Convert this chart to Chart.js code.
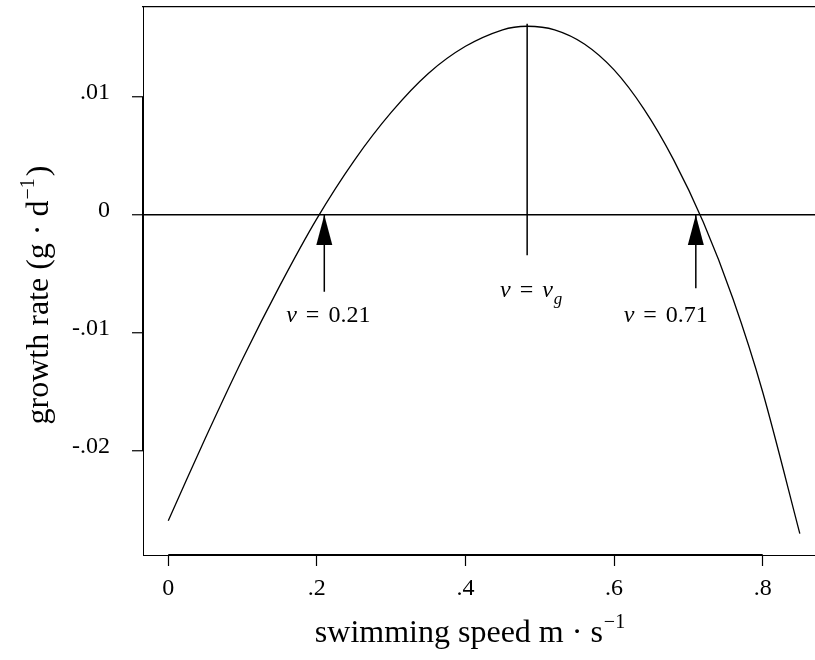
<!DOCTYPE html>
<html>
<head>
<meta charset="utf-8">
<title>Growth rate vs swimming speed</title>
<script src="https://cdn.jsdelivr.net/npm/chart.js@4.4.1/dist/chart.umd.min.js"></script>
<style>
    html, body { margin: 0; padding: 0; background: #fff; overflow: hidden; }
    canvas { display: block; }
</style>
</head>
<body>
<canvas id="growthChart" width="815" height="660"></canvas>
<script>
// growth curve: swimming speed (m/s) -> growth rate (g/d)
const speed = [0, 0.05, 0.10, 0.15, 0.20, 0.25, 0.30, 0.35, 0.40, 0.45, 0.483, 0.52, 0.56, 0.60, 0.64, 0.68, 0.72, 0.76, 0.80, 0.85];
const growth = [-0.0259, -0.0189, -0.0122, -0.0060, -0.0003, 0.0046, 0.0087, 0.0120, 0.0143, 0.0157, 0.0160, 0.0157, 0.0145, 0.0123, 0.0090, 0.0047, -0.0006, -0.0071, -0.0150, -0.0270];

// axis ticks
const speedTicks = [0, 0.2, 0.4, 0.6, 0.8];
const speedTickLabels = ['0', '.2', '.4', '.6', '.8'];
const growthTicks = [-0.02, -0.01, 0, 0.01];
const growthTickLabels = ['-.02', '-.01', '0', '.01'];

// axis ranges
const speedMin = -0.034, speedMax = 0.8704;
const growthMin = -0.02881, growthMax = 0.01763;

// optimum speed marker (vertical line)
const vg = 0.483;
const vgLine = [0.0162, -0.0034];

// zero-growth speeds (arrows)
const rootSpeeds = [0.21, 0.71];
const rootLabels = ['0.21', '0.71'];
const arrowTails = [-0.0065, -0.0062];

const SERIF = "'Liberation Serif', 'Times New Roman', serif";
const ROMAN = '24px ' + SERIF;
const ITALIC = 'italic 24px ' + SERIF;

// draw a row of text pieces (for super/subscripts)
function drawRuns(ctx, runs, x, y, align) {
    let w = 0;
    runs.forEach(r => { ctx.font = r.font; w += ctx.measureText(r.text).width + (r.gap || 0); });
    let cx = align === 'center' ? x - w / 2 : (align === 'right' ? x - w : x);
    runs.forEach(r => {
        ctx.font = r.font;
        ctx.fillText(r.text, cx, y + (r.dy || 0));
        cx += ctx.measureText(r.text).width + (r.gap || 0);
    });
}

// no extra room around the plot for edge labels
function noPadding(axis) {
    axis.paddingTop = 0;
    axis.paddingBottom = 0;
    axis.paddingLeft = 0;
    axis.paddingRight = 0;
}

const decorations = {
    id: 'decorations',
    afterDraw(chart) {
        const { ctx, chartArea, scales: { x, y } } = chart;
        ctx.save();
        ctx.strokeStyle = '#000';
        ctx.fillStyle = '#000';
        ctx.textAlign = 'left';
        ctx.textBaseline = 'alphabetic';

        // heavier axis line between the outer ticks
        ctx.lineWidth = 2;
        ctx.beginPath();
        ctx.moveTo(chartArea.left, y.getPixelForValue(growthTicks[growthTicks.length - 1]));
        ctx.lineTo(chartArea.left, y.getPixelForValue(growthTicks[0]));
        ctx.moveTo(x.getPixelForValue(speedTicks[0]), chartArea.bottom);
        ctx.lineTo(x.getPixelForValue(speedTicks[speedTicks.length - 1]), chartArea.bottom);
        ctx.stroke();

        // arrowheads
        rootSpeeds.forEach(v => {
            const px = x.getPixelForValue(v);
            const py = y.getPixelForValue(0);
            ctx.beginPath();
            ctx.moveTo(px, py);
            ctx.lineTo(px - 8, py + 30);
            ctx.lineTo(px + 8, py + 30);
            ctx.closePath();
            ctx.fill();
        });

        // labels under the arrows
        rootSpeeds.forEach((v, i) => {
            const px = x.getPixelForValue(v);
            const runs = [
                { text: 'v', font: ITALIC, gap: 9 },
                { text: '=', font: ROMAN, gap: 9 },
                { text: rootLabels[i], font: ROMAN }
            ];
            if (i === 0) drawRuns(ctx, runs, px + 4, 322, 'center');
            else drawRuns(ctx, runs, px + 12, 322, 'right');
        });

        // label under the optimum line
        drawRuns(ctx, [
            { text: 'v', font: ITALIC, gap: 9 },
            { text: '=', font: ROMAN, gap: 9 },
            { text: 'v', font: ITALIC, gap: 1 },
            { text: 'g', font: 'italic 17px ' + SERIF, dy: 7 }
        ], x.getPixelForValue(vg) + 4, 297, 'center');

        // axis titles
        const big = '32px ' + SERIF;
        const sup = '20px ' + SERIF;
        drawRuns(ctx, [
            { text: 'swimming speed m \u00b7 s', font: big, gap: 1 },
            { text: '\u22121', font: sup, dy: -14 }
        ], 470, 642, 'center');

        ctx.translate(48, 295);
        ctx.rotate(-Math.PI / 2);
        drawRuns(ctx, [
            { text: 'growth rate (g \u00b7 d', font: big, gap: 1 },
            { text: '\u22121', font: sup, dy: -14, gap: 2 },
            { text: ')', font: big }
        ], 0, 0, 'center');
        ctx.restore();
    }
};

const lineStyle = { showLine: true, pointRadius: 0, borderColor: '#000', fill: false };

const growthChart = new Chart(document.getElementById('growthChart').getContext('2d'), {
    type: 'scatter',
    data: {
        datasets: [
            {
                ...lineStyle,
                data: speed.map((s, i) => ({ x: s, y: growth[i] })),
                borderWidth: 1.3,
                tension: 0.3
            },
            {
                ...lineStyle,
                data: [{ x: vg, y: vgLine[0] }, { x: vg, y: vgLine[1] }],
                borderWidth: 1.5
            },
            ...rootSpeeds.map((v, i) => ({
                ...lineStyle,
                data: [{ x: v, y: 0 }, { x: v, y: arrowTails[i] }],
                borderWidth: 1.5
            }))
        ]
    },
    options: {
        responsive: false,
        animation: false,
        events: [],
        layout: { padding: 0 },
        plugins: { legend: { display: false }, tooltip: { enabled: false } },
        scales: {
            x: {
                type: 'linear',
                position: 'bottom',
                min: speedMin,
                max: speedMax,
                afterBuildTicks: axis => { axis.ticks = speedTicks.map(v => ({ value: v })); },
                afterFit: axis => { axis.height = 105; noPadding(axis); },
                ticks: {
                    callback: v => speedTickLabels[speedTicks.indexOf(v)],
                    font: { family: SERIF, size: 24 },
                    color: '#000',
                    padding: 8,
                    maxRotation: 0,
                    autoSkip: false
                },
                grid: { drawOnChartArea: false, drawTicks: true, tickLength: 11, tickColor: '#000', tickWidth: 1.2 },
                border: { display: true, color: '#000', width: 1 }
            },
            x2: {
                type: 'linear',
                position: 'top',
                min: speedMin,
                max: speedMax,
                afterFit: axis => { axis.height = 7; noPadding(axis); },
                ticks: { display: false },
                grid: { display: false, drawTicks: false },
                border: { display: true, color: '#000', width: 1.2 }
            },
            y: {
                type: 'linear',
                position: 'left',
                min: growthMin,
                max: growthMax,
                afterBuildTicks: axis => { axis.ticks = growthTicks.map(v => ({ value: v })); },
                afterFit: axis => { axis.width = 143; noPadding(axis); },
                ticks: {
                    callback: v => growthTickLabels[growthTicks.indexOf(v)],
                    font: { family: SERIF, size: 24 },
                    color: '#000',
                    padding: 22,
                    labelOffset: -4,
                    autoSkip: false
                },
                grid: {
                    drawOnChartArea: true,
                    drawTicks: true,
                    tickLength: 11,
                    tickColor: '#000',
                    tickWidth: 1.2,
                    lineWidth: 1.5,
                    // only the zero line is drawn across the plot
                    color: c => (c.tick && c.tick.value === 0 ? '#000' : 'rgba(0,0,0,0)')
                },
                border: { display: true, color: '#000', width: 1 }
            }
        }
    },
    plugins: [decorations]
});
</script>
</body>
</html>
